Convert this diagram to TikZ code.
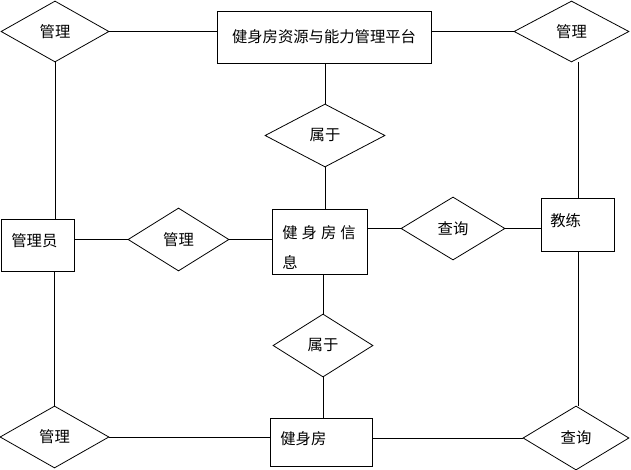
\documentclass[tikz,border=0pt]{standalone}
\usepackage{fontspec}
\setmainfont{Noto Sans CJK SC}
\usetikzlibrary{shapes.geometric}

\begin{document}
\begin{tikzpicture}[x=0.75pt, y=-0.75pt, line width=0.6pt,
  every node/.style={font=\fontsize{11.5pt}{14pt}\selectfont},
  rel/.style 2 args={diamond, draw, inner sep=0pt, minimum width=#1, minimum height=#2},
  ent/.style={rectangle, draw, anchor=north west, align=left, inner ysep=0pt, inner xsep=7.5pt}]

  \useasboundingbox (0,0) rectangle (631,470);

  % entities
  \node[draw, minimum width=160.5pt, minimum height=39pt] (plat) at (324,37) {健身房资源与能力管理平台};
  \node[ent, text width=39.75pt, text height=20.25pt, text depth=18.75pt] (admin) at (1,219) {管理员};
  \node[ent, text width=56.25pt, text height=21.75pt, text depth=27pt,
        font=\fontsize{11.5pt}{22.5pt}\selectfont] (info) at (272,209)
        {健\hspace{3pt}身\hspace{3pt}房\hspace{3pt}信\\息};
  \node[ent, inner xsep=6.75pt, text width=41.25pt, text height=21pt, text depth=18.75pt] (coach) at (541,198) {教练};
  \node[ent, text width=61.5pt, text height=19.5pt, text depth=16.5pt] (home) at (270,418) {健身房};

  % relations
  \node[rel={81pt}{45.75pt}] (m1) at (55,31.5) {管理};
  \node[rel={86.25pt}{45.75pt}] (m2) at (571.5,31.5) {管理};
  \node[rel={90pt}{47.25pt}] (b1) at (325,135.5) {属于};
  \node[rel={75.75pt}{47.25pt}] (m3) at (178.5,239.5) {管理};
  \node[rel={78pt}{47.25pt}] (q1) at (453,228.5) {查询};
  \node[rel={75pt}{47.25pt}] (b2) at (323,345.5) {属于};
  \node[rel={81.75pt}{46.5pt}] (m4) at (54.5,437) {管理};
  \node[rel={79.5pt}{48pt}] (q2) at (576,438) {查询};

  % connections
  \draw (m1.east) -- (m1.east -| plat.west);
  \draw (m2.west -| plat.east) -- (m2.west);
  \draw (m1.south) -- (m1.south |- admin.north);
  \draw (coach.north |- m2.south) -- (coach.north);
  \draw (b1.north |- plat.south) -- (b1.north);
  \draw (b1.south) -- (b1.south |- info.north);
  \draw (m3.west -| admin.east) -- (m3.west);
  \draw (m3.east) -- (m3.east -| info.west);
  \draw (q1.west -| info.east) -- (q1.west);
  \draw (q1.east) -- (q1.east -| coach.west);
  \draw (b2.north |- info.south) -- (b2.north);
  \draw (b2.south) -- (b2.south |- home.north);
  \draw (m4.north |- admin.south) -- (m4.north);
  \draw (m4.east) -- (m4.east -| home.west);
  \draw (q2.west -| home.east) -- (q2.west);
  \draw (coach.south) -- (coach.south |- q2.north);

\end{tikzpicture}
\end{document}
